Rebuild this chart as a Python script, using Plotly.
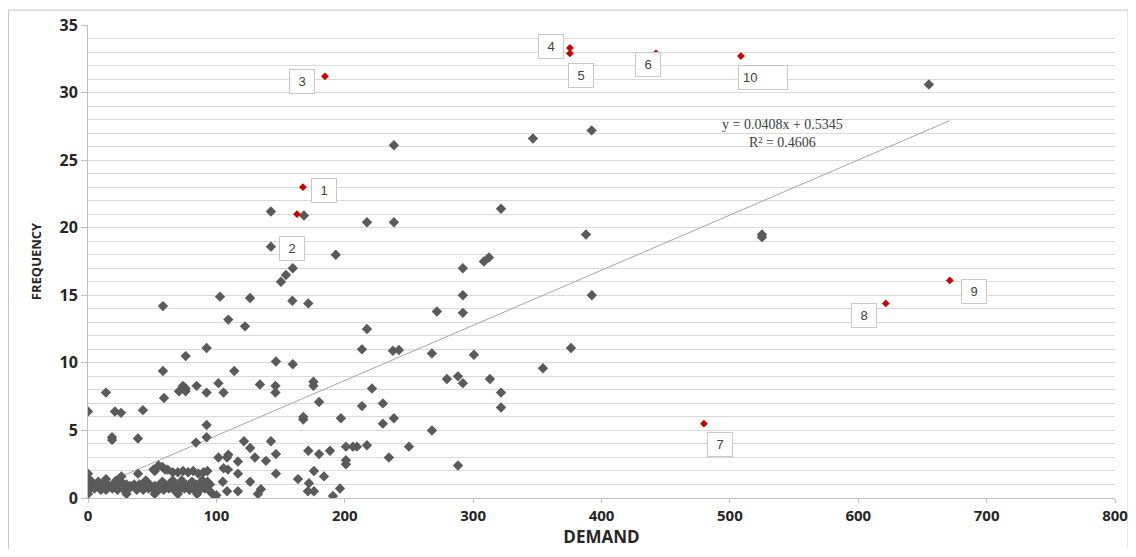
import numpy as np
import plotly.graph_objects as go

# ---- gray (regular) observations: DEMAND, FREQUENCY ----
gray_x = [655, 346.6, 392.3, 238.3, 525, 525, 142.5, 168.2, 142.5, 193, 159.5, 154.2, 150.3,
          58.4, 102.8, 126.2, 159.2, 171.6, 109.3, 122.3, 92.4, 76.1, 146.4, 159.5, 58.4, 113.9,
          321.7, 217.3, 238.3, 387.9, 308.4, 312.3, 292, 292, 392.5, 271.8, 292, 217.3, 213.4,
          237.5, 242.2, 267.9, 300.6, 376.2, 354.4, 279.6, 288.2, 292, 313.1, 321.7, 321.7,
          221.2, 213.4, 229.7, 197, 229.7, 238.3, 267.9, 209.5, 217.3, 250, 234.4, 288.2,
          0, 14, 18.7, 18.7, 21, 25.7, 38.9, 42.8, 59.2, 70.9, 74, 76, 76, 84.6, 92.4, 101.6,
          105.6, 133.9, 146, 146, 175.6, 175.6, 180, 167.7, 167.7, 92.4, 92.4, 84.1, 121.5,
          126.3, 142.5, 146.4, 130, 138.6, 101.6, 108.3, 109.3, 116.8, 105.6, 109, 116.8, 146.4,
          105, 126.3, 108.3, 116.8, 134.7, 132.4, 100, 171.6, 180, 188.5, 200.9, 206.4, 200.9,
          200.9, 176, 183.8, 163.6, 172.1, 171.3, 176, 196.3, 190.8]
gray_y = [30.6, 26.6, 27.2, 26.1, 19.5, 19.3, 21.2, 20.9, 18.6, 18.0, 17.0, 16.5, 16.0,
          14.2, 14.9, 14.8, 14.6, 14.4, 13.2, 12.7, 11.1, 10.5, 10.1, 9.9, 9.4, 9.4,
          21.4, 20.4, 20.4, 19.5, 17.5, 17.8, 17.0, 15.0, 15.0, 13.8, 13.7, 12.5, 11.0,
          10.9, 10.95, 10.7, 10.6, 11.1, 9.6, 8.8, 9.0, 8.5, 8.8, 7.8, 6.7,
          8.1, 6.8, 7.0, 5.9, 5.5, 5.9, 5.0, 3.8, 3.9, 3.8, 3.0, 2.4,
          6.4, 7.8, 4.5, 4.3, 6.4, 6.3, 4.4, 6.5, 7.4, 7.9, 8.3, 7.9, 8.1, 8.3, 7.8, 8.5,
          7.8, 8.4, 8.3, 7.8, 8.6, 8.3, 7.1, 5.8, 6.0, 5.4, 4.5, 4.1, 4.2,
          3.7, 4.2, 3.25, 3.0, 2.75, 3.0, 3.0, 3.2, 2.7, 2.2, 2.1, 1.8, 1.8,
          1.2, 1.2, 0.5, 0.5, 0.65, 0.3, 0.2, 3.5, 3.25, 3.5, 3.8, 3.8, 2.8,
          2.5, 2.0, 1.6, 1.4, 1.1, 0.5, 0.5, 0.7, 0.15]

# ---- dense low-demand cluster ----
cluster_x = [0, 3, 6, 9, 12, 15, 18, 21, 24, 27, 30, 33, 36, 40, 44, 48, 52, 56, 60, 64, 68,
             72, 76, 80, 84, 88, 92, 95,
             1, 5, 10, 14, 19, 23, 28, 32, 38, 43, 47, 51, 55, 59, 63, 67, 71, 75, 79, 83,
             87, 91, 94,
             0, 30, 52, 70, 85, 97,
             2, 8, 22, 45, 58, 66, 73, 81, 89, 93,
             62, 66, 70, 74, 78, 82, 86, 90, 93,
             52, 55, 58, 60, 0, 26, 39, 51, 14]
cluster_y = [1.0, 1.0, 0.9, 1.0, 1.1, 1.0, 0.9, 1.0, 1.0, 1.1, 1.0, 0.9, 1.0, 1.0, 1.1, 1.0,
             0.9, 1.0, 1.0, 1.1, 1.0, 0.9, 1.0, 1.1, 1.0, 1.0, 0.9, 1.0,
             0.6, 0.7, 0.6, 0.6, 0.7, 0.6, 0.6, 0.7, 0.6, 0.6, 0.7, 0.6, 0.6, 0.6, 0.7, 0.6,
             0.6, 0.7, 0.6, 0.6, 0.6, 0.7, 0.6,
             0.3, 0.3, 0.3, 0.3, 0.3, 0.3,
             1.3, 1.2, 1.3, 1.3, 1.2, 1.3, 1.3, 1.2, 1.3, 1.2,
             2.1, 1.9, 1.9, 2.0, 1.9, 2.0, 1.8, 1.9, 2.0,
             2.0, 2.4, 2.3, 2.1, 1.8, 1.6, 1.8, 2.1, 1.4]

# ---- highlighted (red) observations with their labels ----
red_x = [167.4, 162.8, 184.6, 375.4, 375.4, 442.4, 479.8, 621.5, 671.3, 508.6]
red_y = [23.0, 21.0, 31.2, 33.3, 32.9, 32.9, 5.5, 14.4, 16.1, 32.7]
red_labels = ["1", "2", "3", "4", "5", "6", "7", "8", "9", "10"]
label_dx = [21, -5, -23, -19, 11, -8, 16, -22, 24, 22]
label_dy = [-3, -34, -5, 1, -22, -11, -21, -12, -11, -21]

# ---- linear trend ----
slope = 0.0408
intercept = 0.5345
r2 = 0.4606

x_ticks = [0, 100, 200, 300, 400, 500, 600, 700, 800]
y_ticks = [0, 5, 10, 15, 20, 25, 30, 35]

all_x = np.array(gray_x + cluster_x + red_x, dtype=float)
tx = np.array([all_x.min(), all_x.max()])
ty = slope * tx + intercept

fig = go.Figure()
fig.add_trace(go.Scatter(x=tx, y=ty, mode="lines",
                         line=dict(color="#a6a6a6", width=1), hoverinfo="skip"))
fig.add_trace(go.Scatter(x=cluster_x, y=cluster_y, mode="markers",
                         marker=dict(symbol="diamond", size=8, color="#5a5a5a")))
fig.add_trace(go.Scatter(x=gray_x, y=gray_y, mode="markers",
                         marker=dict(symbol="diamond", size=8, color="#5a5a5a")))
fig.add_trace(go.Scatter(x=red_x, y=red_y, mode="markers",
                         marker=dict(symbol="diamond", size=6, color="#cc0000")))

for x, y, t, dx, dy in zip(red_x, red_y, red_labels, label_dx, label_dy):
    fig.add_annotation(x=x, y=y, text=t, showarrow=False, xshift=dx, yshift=dy,
                       font=dict(family="Liberation Sans", size=13, color="#404040"),
                       bordercolor="#c8c8c8", borderwidth=1, borderpad=4,
                       bgcolor="white", width=40 if len(t) > 1 else 16,
                       align="left" if len(t) > 1 else "center")

fig.add_annotation(x=0.737, y=0.81, xref="paper", yref="paper",
                   text=f"y = {slope}x + {intercept}<br>R² = {r2}",
                   showarrow=False, align="center",
                   font=dict(family="Liberation Serif", size=14, color="#404040"))

# outer chart frame
fig.add_shape(type="rect", xref="paper", yref="paper",
              x0=-0.0774, x1=1.0127, y0=-0.2, y1=1.0317,
              line=dict(color="#c8c8c8", width=1), layer="below")

fig.update_layout(
    width=1128, height=541,
    margin=dict(l=80, r=21, t=17, b=51),
    paper_bgcolor="white", plot_bgcolor="white",
    showlegend=False,
    xaxis=dict(range=[0, 800], tickvals=x_ticks, showgrid=False, zeroline=False,
               automargin=False, ticklabeloverflow="allow",
               showline=True, linecolor="#bfbfbf", linewidth=1,
               ticks="outside", ticklen=4, tickcolor="#bfbfbf",
               tickfont=dict(family="Open Sans", size=15, color="#262626", weight="bold"),
               title=dict(text="DEMAND", standoff=4,
                          font=dict(family="Open Sans", size=17, color="#262626", weight="bold"))),
    yaxis=dict(range=[0, 35], tickvals=y_ticks, showgrid=True, gridcolor="#d9d9d9",
               automargin=False,
               zeroline=False, showline=True, linecolor="#bfbfbf", linewidth=1,
               ticks="outside", ticklen=6, tickcolor="#bfbfbf",
               minor=dict(dtick=1, showgrid=True, gridcolor="#d9d9d9", ticks=""),
               tickfont=dict(family="Open Sans", size=16, color="#262626", weight="bold"),
               title=dict(text="FREQUENCY", standoff=14,
                          font=dict(family="Open Sans", size=13, color="#262626", weight="bold"))),
)

fig.write_html("out.html")
